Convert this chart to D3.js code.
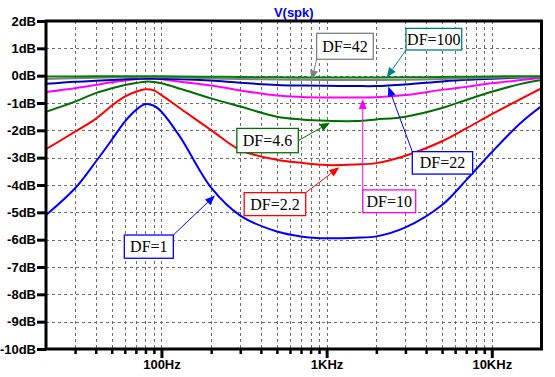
<!DOCTYPE html>
<html>
<head>
<meta charset="utf-8">
<script src="https://cdn.jsdelivr.net/npm/d3@7"></script>
<style>
    body { margin: 0; background: #fff; }
    .chart text { font-family: "Liberation Sans", Arial, sans-serif; }
</style>
</head>
<body>
<svg class="chart"></svg>
<script>
'use strict';

// frequencies the traces were read at (Hz)
var freqs = [20, 30, 40, 50, 60, 70, 80, 90, 100, 130, 200, 300, 500, 700,
             1000, 1500, 2000, 3000, 5000, 7000, 10000, 15000, 20000];

// gain of V(spk) in dB for each damping factor
var df1   = [-5.10, -4.12, -3.15, -2.35, -1.68, -1.26, -1.04, -1.10, -1.32, -2.25, -4.10, -5.12,
             -5.70, -5.88, -5.95, -5.93, -5.88, -5.55, -4.73, -3.82, -2.80, -1.72, -1.11];
var df2_2 = [-2.69, -2.05, -1.58, -1.10, -0.77, -0.59, -0.50, -0.54, -0.71, -1.20, -1.99, -2.72,
             -3.08, -3.19, -3.27, -3.25, -3.20, -2.93, -2.40, -1.93, -1.41, -0.85, -0.46];
var df4_6 = [-1.32, -0.95, -0.64, -0.46, -0.34, -0.27, -0.22, -0.23, -0.28, -0.48, -0.83, -1.13,
             -1.50, -1.60, -1.65, -1.66, -1.60, -1.50, -1.18, -0.89, -0.59, -0.30, -0.16];
var df10  = [-0.60, -0.46, -0.34, -0.24, -0.18, -0.13, -0.10, -0.10, -0.13, -0.22, -0.36, -0.54,
             -0.73, -0.78, -0.80, -0.80, -0.79, -0.71, -0.52, -0.41, -0.28, -0.16, -0.08];
var df22  = [-0.30, -0.22, -0.19, -0.16, -0.13, -0.12, -0.11, -0.11, -0.12, -0.13, -0.18, -0.26,
             -0.34, -0.36, -0.37, -0.38, -0.38, -0.32, -0.21, -0.15, -0.11, -0.07, -0.05];
var df42  = [-0.12, -0.09, -0.08, -0.07, -0.06, -0.06, -0.05, -0.05, -0.06, -0.07, -0.10, -0.12,
             -0.14, -0.15, -0.16, -0.16, -0.16, -0.15, -0.12, -0.10, -0.08, -0.05, -0.04];
var df100 = [-0.03, -0.03, -0.02, -0.02, -0.02, -0.02, -0.02, -0.02, -0.02, -0.03, -0.04, -0.05,
             -0.06, -0.07, -0.07, -0.07, -0.07, -0.06, -0.05, -0.04, -0.03, -0.02, -0.02];

var seriesNames = ['DF=1', 'DF=2.2', 'DF=4.6', 'DF=10', 'DF=22', 'DF=42', 'DF=100'];
var seriesValues = [df1, df2_2, df4_6, df10, df22, df42, df100];

// tick labels
var dbTicks = d3.range(-10, 3);
var freqMajor = [100, 1000, 10000];
var freqMajorLabels = ['100Hz', '1KHz', '10KHz'];

// styling, kept apart from the data
var colors = ['#0000ff', '#ff0000', '#006f00', '#ff00ff', '#0000b4', '#808080', '#008000'];
var boxColors = ['#0000ff', '#ff0000', '#006f00', '#ff00ff', '#0000ff', '#808080', '#008080'];

// label boxes in data space: [f0, db0, f1, db1], arrow start corner, arrow tip [f, db]
var notes = [
    { box: [59.6, -5.83, 118, -6.68],   from: 'tr', tip: [211, -4.38] },
    { box: [317, -4.28, 747, -5.12],    from: 'tr', tip: [1194, -3.35] },
    { box: [286, -1.93, 674, -2.82],    from: 'r',  tip: [1048, -1.72] },
    { box: [1654, -4.18, 3462, -5.01],  from: 'tl', tip: [1654, -0.85] },
    { box: [3302, -2.78, 7660, -3.60],  from: 'tl', tip: [2362, -0.40] },
    { box: [870, 1.55, 1917, 0.60],     from: 'bl', tip: [812, -0.17] },
    { box: [3024, 1.73, 6574, 0.94],    from: 'bl', tip: [2310, -0.07] }
];

var width = 555, height = 377;
var plot = { left: 46, right: 541.5, top: 21, bottom: 349 };

var svg = d3.select('.chart')
    .attr('width', width)
    .attr('height', height);

var x = d3.scaleLog().domain([20, 20000]).range([plot.left, plot.right]);
var y = d3.scaleLinear().domain([-10, 2]).range([plot.bottom, plot.top]);

// every 1-2-3...9 step of each decade gets a tick and a grid line
var freqMinor = [];
[10, 100, 1000, 10000].forEach(function (dec) {
    d3.range(1, 10).forEach(function (m) {
        var f = dec * m;
        if (f > 20 && f < 20000 && freqMajor.indexOf(f) < 0) freqMinor.push(f);
    });
});

// dashed grid
var grid = svg.append('g').attr('stroke', '#6e6e6e').attr('stroke-width', 1)
    .attr('stroke-dasharray', '3,3');
grid.selectAll('line.v').data(freqMinor.concat(freqMajor)).enter()
    .append('line')
    .attr('x1', function (d) { return Math.round(x(d)) + 0.5; })
    .attr('x2', function (d) { return Math.round(x(d)) + 0.5; })
    .attr('y1', plot.top)
    .attr('y2', plot.bottom);
grid.selectAll('line.h').data(dbTicks.slice(1, -1)).enter()
    .append('line')
    .attr('x1', plot.left)
    .attr('x2', plot.right)
    .attr('y1', function (d) { return Math.round(y(d)) + 0.5; })
    .attr('y2', function (d) { return Math.round(y(d)) + 0.5; });

// the traces
var line = d3.line()
    .x(function (d) { return x(d[0]); })
    .y(function (d) { return y(d[1]); })
    .curve(d3.curveCatmullRom.alpha(0.5));

svg.append('clipPath').attr('id', 'clip')
    .append('rect')
    .attr('x', plot.left).attr('y', plot.top)
    .attr('width', plot.right - plot.left).attr('height', plot.bottom - plot.top);

svg.append('g').attr('clip-path', 'url(#clip)')
    .selectAll('path').data(seriesValues).enter()
    .append('path')
    .attr('fill', 'none')
    .attr('stroke', function (d, i) { return colors[i]; })
    .attr('stroke-width', 2)
    .attr('d', function (vals) {
        return line(freqs.map(function (f, i) { return [f, vals[i]]; }));
    });

// frame
svg.append('rect')
    .attr('x', plot.left).attr('y', plot.top)
    .attr('width', plot.right - plot.left).attr('height', plot.bottom - plot.top)
    .attr('fill', 'none').attr('stroke', '#000').attr('stroke-width', 3);

// axes
var yAxis = d3.axisLeft(y).tickValues(dbTicks).tickSize(9).tickPadding(1)
    .tickFormat(function (d) { return d + 'dB'; });
var gy = svg.append('g').attr('transform', 'translate(' + plot.left + ',0)').call(yAxis);

var xMinorAxis = d3.axisBottom(x).tickValues(freqMinor).tickSize(5).tickFormat('');
var gxm = svg.append('g').attr('transform', 'translate(0,' + plot.bottom + ')').call(xMinorAxis);

var xAxis = d3.axisBottom(x).tickValues(freqMajor).tickSize(9).tickPadding(2)
    .tickFormat(function (d, i) { return freqMajorLabels[i]; });
var gx = svg.append('g').attr('transform', 'translate(0,' + plot.bottom + ')').call(xAxis);

[gy, gxm, gx].forEach(function (g) {
    g.select('.domain').remove();
    g.selectAll('.tick line').attr('stroke', '#000').attr('stroke-width', 3);
    g.selectAll('.tick text')
        .attr('fill', '#000')
        .style('font-size', '13px')
        .style('font-weight', 'bold');
});
gxm.selectAll('.tick line').attr('stroke-width', 2.5);

// title
svg.append('text')
    .attr('x', (plot.left + plot.right) / 2)
    .attr('y', 16.5)
    .attr('text-anchor', 'middle')
    .attr('fill', '#0000ff')
    .style('font-size', '13px')
    .style('font-weight', 'bold')
    .text('V(spk)');

// labels with arrows
var notesG = svg.append('g');
notes.forEach(function (n, i) {
    var x0 = x(n.box[0]), y0 = y(n.box[1]), x1 = x(n.box[2]), y1 = y(n.box[3]);
    var start = {
        tl: [x0, y0], tr: [x1, y0], bl: [x0, y1], br: [x1, y1], r: [x1, (y0 + y1) / 2]
    }[n.from];
    var tx = x(n.tip[0]), ty = y(n.tip[1]);
    var ang = Math.atan2(ty - start[1], tx - start[0]);
    var len = 10, half = 4;
    var bx = tx - len * Math.cos(ang), by = ty - len * Math.sin(ang);
    var px = -Math.sin(ang) * half, py = Math.cos(ang) * half;

    notesG.append('line')
        .attr('x1', start[0]).attr('y1', start[1])
        .attr('x2', bx).attr('y2', by)
        .attr('stroke', boxColors[i]).attr('stroke-width', 1);
    notesG.append('polygon')
        .attr('points', [[tx, ty], [bx + px, by + py], [bx - px, by - py]].join(' '))
        .attr('fill', boxColors[i]);

    notesG.append('rect')
        .attr('x', x0).attr('y', y0)
        .attr('width', x1 - x0).attr('height', y1 - y0)
        .attr('fill', '#fff')
        .attr('stroke', boxColors[i]).attr('stroke-width', 1.3);
    notesG.append('text')
        .attr('x', (x0 + x1) / 2)
        .attr('y', (y0 + y1) / 2)
        .attr('dy', '0.35em')
        .attr('text-anchor', 'middle')
        .style('font-family', '"Liberation Serif", "Times New Roman", serif')
        .style('font-size', '16px')
        .text(seriesNames[i]);
});
</script>
</body>
</html>
